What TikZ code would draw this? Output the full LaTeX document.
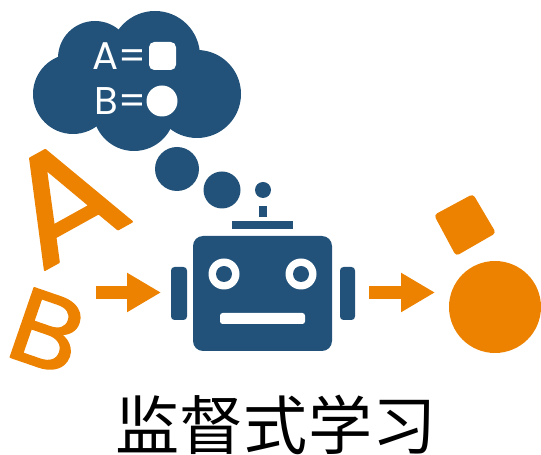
\documentclass[tikz,border=0pt]{standalone}
\usepackage{fontspec}
\usetikzlibrary{arrows.meta}
\setmainfont{Poppins}
\newfontfamily\cjkfont{Noto Sans CJK SC}
\newfontfamily\heavyfont[FakeBold=1.4]{Poppins}
\definecolor{robotblue}{HTML}{22527A}
\definecolor{signorange}{HTML}{EC8200}
\tikzset{>=stealth}
\begin{document}
\begin{tikzpicture}[x=0.02cm,y=-0.02cm,
		bluepart/.style={fill=robotblue},
		orangepart/.style={fill=signorange},
		whitepart/.style={fill=white},
		flow/.style={draw=signorange, line width=7.4pt,
		-{Triangle[length=19.3pt,width=21pt,fill=signorange]}},
		cloudtext/.style={text=white, inner sep=0pt, font=\fontsize{22}{22}\selectfont},
		bigletter/.style={text=signorange, inner sep=0pt}]
		\useasboundingbox (0,0) rectangle (541,455);
		%% Cloud
		\fill [bluepart] (155,56) circle (45);
		\fill [bluepart] (95,58) circle (37);
		\fill [bluepart] (73,94) circle (40);
		\fill [bluepart] (197,94) circle (44);
		\fill [bluepart] (134,110) circle (41);
		\fill [bluepart] (100,60) rectangle (190,125);
		\node [cloudtext, anchor=west] (labelA) at (92,56) {A=};
		\node [cloudtext, anchor=west] (labelB) at (94,101) {B=};
		\fill [whitepart, rounded corners=3pt] (149,42) rectangle (176,70);
		\fill [whitepart] (162,101) circle (15.5);
		%% Bubbles
		\fill [bluepart] (177,169) circle (22);
		\fill [bluepart] (222,190) circle (18.5);
		\fill [bluepart] (263,190) circle (8);
		%% Robot
		\fill [bluepart] (259,206) rectangle (267,217);
		\fill [bluepart] (232,221) rectangle (293,229);
		\fill [bluepart, rounded corners=5.7pt] (193,236) rectangle (332,351);
		\fill [bluepart, rounded corners=2pt] (187,267) -- (171,267) -- (171,320) -- (187,320) -- cycle;
		\fill [bluepart, rounded corners=2pt] (340,267) -- (355,267) -- (355,320) -- (340,320) -- cycle;
		\fill [whitepart] (224,274) circle (15.5);
		\fill [whitepart] (301,274) circle (15.5);
		\fill [bluepart] (224,274) circle (8);
		\fill [bluepart] (301,274) circle (8);
		\fill [whitepart, rounded corners=1.5pt] (220,313) rectangle (305,324);
		%% Inputs
		\node [bigletter, rotate=29, xscale=1.08, font=\heavyfont\fontsize{86}{86}\selectfont] (bigA) at (63,200) {\pgfsetroundjoin\pgfsetroundcap A};
		\node [bigletter, rotate=-19, xscale=1.08, font=\heavyfont\fontsize{60}{60}\selectfont] (bigB) at (47,331) {\pgfsetroundjoin\pgfsetroundcap B};
		%% Outputs
		\fill [orangepart, rounded corners=2pt] (473,194) -- (496,233) -- (456,256) -- (434,215) -- cycle;
		\fill [orangepart] (495,307) circle (46);
		%% Arrows
		\coordinate (inS) at (96,292.5);
		\coordinate (inE) at (161,292.5);
		\coordinate (outS) at (369,292.5);
		\coordinate (outE) at (435,292.5);
		\draw [flow] (inS) -- (inE);
		\draw [flow] (outS) -- (outE);
		%% Title
		\node [inner sep=0pt, font=\cjkfont\fontsize{36.5}{36.5}\selectfont] (title) at (276,425) {监督式学习};
	\end{tikzpicture}
\end{document}
